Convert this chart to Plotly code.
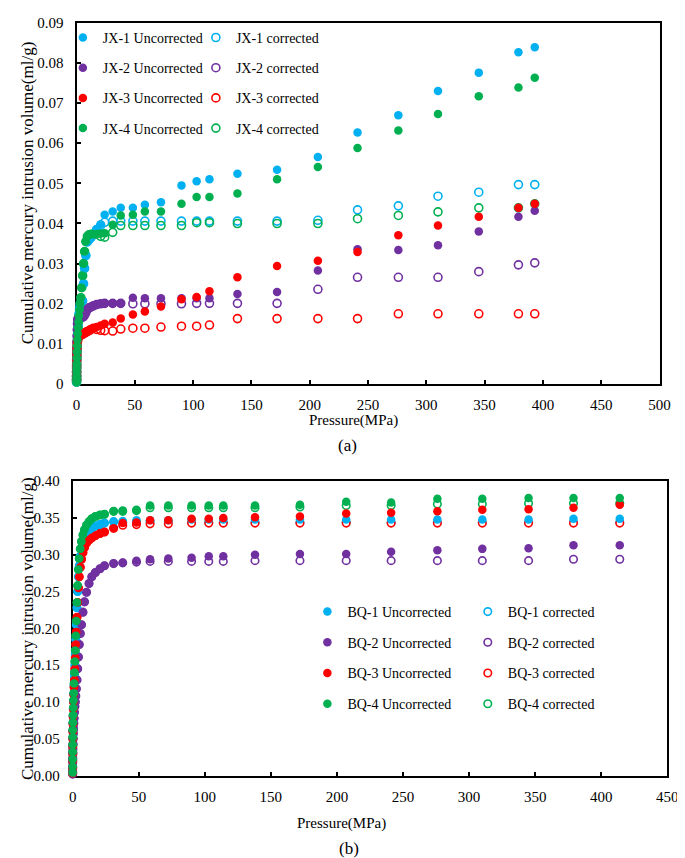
import plotly.graph_objects as go

FONT = "Liberation Serif"
W, H = 685, 858

# ---------------- Panel (a) data ----------------
pressure_a = [0.01, 0.02, 0.03, 0.05, 0.08, 0.12, 0.2, 0.3, 0.45, 0.6,
              0.8, 1.0, 1.3, 1.7, 2.1, 2.6, 3.1, 3.7, 4.4, 5.2,
              6.0, 6.9, 8.0, 9.3, 10.8, 12.4, 14.5, 17.2, 20.7, 24.1,
              31.0, 37.9, 48.3, 58.6, 72.4, 90.0, 103, 114, 138, 172,
              207, 241, 276, 310, 345, 379, 393]

jx1_unc = [0.0005, 0.0012, 0.0018, 0.0025, 0.0035, 0.0045, 0.0058, 0.0070, 0.0085, 0.0100,
           0.0115, 0.0130, 0.0145, 0.0160, 0.0175, 0.0188, 0.0198, 0.0203, 0.0205, 0.0207,
           0.0250, 0.0288, 0.0320, 0.0354, 0.0360, 0.0365, 0.0373, 0.0385, 0.0398, 0.0422,
           0.0430, 0.0439, 0.0439, 0.0447, 0.0453, 0.0495, 0.0505, 0.0510, 0.0524, 0.0534,
           0.0566, 0.0627, 0.0670, 0.0730, 0.0776, 0.0827, 0.0839]
jx1_cor = [0.0005, 0.0012, 0.0018, 0.0025, 0.0035, 0.0045, 0.0058, 0.0070, 0.0085, 0.0100,
           0.0115, 0.0130, 0.0145, 0.0160, 0.0175, 0.0188, 0.0198, 0.0203, 0.0205, 0.0207,
           0.0250, 0.0288, 0.0320, 0.0354, 0.0360, 0.0365, 0.0373, 0.0385, 0.0395, 0.0403,
           0.0406, 0.0406, 0.0406, 0.0406, 0.0406, 0.0406, 0.0406, 0.0406, 0.0406, 0.0406,
           0.0408, 0.0434, 0.0444, 0.0468, 0.0478, 0.0497, 0.0497]
jx2_unc = [0.0010, 0.0020, 0.0030, 0.0045, 0.0060, 0.0075, 0.0090, 0.0105, 0.0120, 0.0135,
           0.0150, 0.0160, 0.0163, 0.0164, 0.0165, 0.0165, 0.0166, 0.0166, 0.0167, 0.0167,
           0.0168, 0.0172, 0.0178, 0.0186, 0.0190, 0.0192, 0.0195, 0.0198, 0.0200, 0.0201,
           0.0201, 0.0201, 0.0215, 0.0214, 0.0214, 0.0214, 0.0214, 0.0214, 0.0224, 0.0229,
           0.0283, 0.0336, 0.0334, 0.0346, 0.0380, 0.0417, 0.0432]
jx2_cor = [0.0010, 0.0020, 0.0030, 0.0045, 0.0060, 0.0075, 0.0090, 0.0105, 0.0120, 0.0135,
           0.0150, 0.0160, 0.0163, 0.0164, 0.0165, 0.0165, 0.0166, 0.0166, 0.0167, 0.0167,
           0.0168, 0.0172, 0.0178, 0.0186, 0.0190, 0.0192, 0.0195, 0.0198, 0.0200, 0.0201,
           0.0201, 0.0201, 0.0200, 0.0200, 0.0200, 0.0200, 0.0201, 0.0201, 0.0201, 0.0201,
           0.0236, 0.0266, 0.0266, 0.0266, 0.0280, 0.0297, 0.0302]
jx3_unc = [0.0010, 0.0020, 0.0030, 0.0040, 0.0050, 0.0060, 0.0070, 0.0080, 0.0090, 0.0098,
           0.0105, 0.0110, 0.0114, 0.0117, 0.0119, 0.0120, 0.0121, 0.0122, 0.0123, 0.0124,
           0.0126, 0.0127, 0.0129, 0.0131, 0.0133, 0.0136, 0.0139, 0.0142, 0.0146, 0.0150,
           0.0153, 0.0163, 0.0173, 0.0181, 0.0193, 0.0211, 0.0217, 0.0231, 0.0266, 0.0294,
           0.0307, 0.0329, 0.0371, 0.0395, 0.0417, 0.0439, 0.0449]
jx3_cor = [0.0010, 0.0020, 0.0030, 0.0040, 0.0050, 0.0060, 0.0070, 0.0080, 0.0090, 0.0098,
           0.0105, 0.0110, 0.0114, 0.0117, 0.0119, 0.0120, 0.0121, 0.0122, 0.0123, 0.0124,
           0.0126, 0.0127, 0.0129, 0.0131, 0.0133, 0.0136, 0.0139, 0.0136, 0.0134, 0.0133,
           0.0132, 0.0137, 0.0139, 0.0139, 0.0142, 0.0144, 0.0144, 0.0147, 0.0163, 0.0163,
           0.0163, 0.0163, 0.0175, 0.0175, 0.0175, 0.0175, 0.0175]
jx4_unc = [0.0005, 0.0010, 0.0015, 0.0020, 0.0030, 0.0040, 0.0050, 0.0065, 0.0080, 0.0095,
           0.0110, 0.0125, 0.0140, 0.0155, 0.0170, 0.0185, 0.0200, 0.0215, 0.0240, 0.0270,
           0.0300, 0.0330, 0.0355, 0.0368, 0.0372, 0.0373, 0.0373, 0.0374, 0.0375, 0.0376,
           0.0397, 0.0420, 0.0422, 0.0430, 0.0430, 0.0449, 0.0466, 0.0466, 0.0475, 0.0510,
           0.0541, 0.0588, 0.0632, 0.0673, 0.0717, 0.0739, 0.0763]
jx4_cor = [0.0005, 0.0010, 0.0015, 0.0020, 0.0030, 0.0040, 0.0050, 0.0065, 0.0080, 0.0095,
           0.0110, 0.0125, 0.0140, 0.0155, 0.0170, 0.0185, 0.0200, 0.0215, 0.0240, 0.0270,
           0.0300, 0.0330, 0.0355, 0.0368, 0.0372, 0.0373, 0.0373, 0.0374, 0.0368, 0.0366,
           0.0378, 0.0395, 0.0395, 0.0395, 0.0395, 0.0395, 0.0402, 0.0402, 0.0400, 0.0400,
           0.0400, 0.0412, 0.0420, 0.0429, 0.0439, 0.0439, 0.0449]

a_x_ticks = [0, 50, 100, 150, 200, 250, 300, 350, 400, 450, 500]
a_y_ticks = [0, 0.01, 0.02, 0.03, 0.04, 0.05, 0.06, 0.07, 0.08, 0.09]
a_y_ticktext = ["0", "0.01", "0.02", "0.03", "0.04", "0.05", "0.06", "0.07", "0.08", "0.09"]

# ---------------- Panel (b) data ----------------
pressure_b = [0.01, 0.02, 0.04, 0.07, 0.1, 0.15, 0.2, 0.3, 0.4, 0.55,
              0.7, 0.9, 1.1, 1.4, 1.7, 2.0, 2.4, 2.8, 3.3, 3.8,
              4.4, 5.0, 5.8, 6.7, 7.8, 9.0, 10.5, 12.4, 14.5, 17.2,
              20.7, 24.1, 31.0, 37.9, 48.3, 58.6, 72.4, 90.0, 103, 114,
              138, 172, 207, 241, 276, 310, 345, 379, 414]

bq1_unc = [0.004, 0.011, 0.021, 0.031, 0.041, 0.051, 0.061, 0.071, 0.081, 0.091,
           0.101, 0.111, 0.122, 0.135, 0.150, 0.165, 0.185, 0.205, 0.228, 0.250,
           0.270, 0.285, 0.298, 0.307, 0.316, 0.322, 0.327, 0.332, 0.336, 0.339,
           0.341, 0.343, 0.345, 0.346, 0.347, 0.347, 0.347, 0.348, 0.348, 0.348,
           0.348, 0.348, 0.348, 0.348, 0.348, 0.348, 0.348, 0.349, 0.349]
bq1_cor = [0.004, 0.011, 0.021, 0.031, 0.041, 0.051, 0.061, 0.071, 0.081, 0.091,
           0.101, 0.111, 0.122, 0.135, 0.150, 0.165, 0.185, 0.205, 0.228, 0.250,
           0.270, 0.285, 0.298, 0.307, 0.316, 0.322, 0.327, 0.332, 0.336, 0.339,
           0.341, 0.343, 0.345, 0.344, 0.345, 0.345, 0.345, 0.344, 0.344, 0.344,
           0.344, 0.344, 0.344, 0.344, 0.344, 0.344, 0.344, 0.344, 0.344]
bq2_unc = [0.002, 0.006, 0.012, 0.018, 0.024, 0.030, 0.036, 0.043, 0.050, 0.057,
           0.064, 0.071, 0.078, 0.086, 0.094, 0.100, 0.108, 0.118, 0.130, 0.145,
           0.161, 0.178, 0.193, 0.205, 0.222, 0.236, 0.249, 0.261, 0.270, 0.276,
           0.281, 0.285, 0.288, 0.289, 0.292, 0.294, 0.295, 0.296, 0.298, 0.298,
           0.300, 0.301, 0.301, 0.304, 0.306, 0.308, 0.309, 0.313, 0.313]
bq2_cor = [0.002, 0.006, 0.012, 0.018, 0.024, 0.030, 0.036, 0.043, 0.050, 0.057,
           0.064, 0.071, 0.078, 0.086, 0.094, 0.100, 0.108, 0.118, 0.130, 0.145,
           0.161, 0.178, 0.193, 0.205, 0.222, 0.236, 0.249, 0.261, 0.270, 0.276,
           0.281, 0.285, 0.288, 0.289, 0.290, 0.291, 0.291, 0.291, 0.291, 0.291,
           0.292, 0.292, 0.292, 0.292, 0.292, 0.292, 0.292, 0.294, 0.294]
bq3_unc = [0.003, 0.010, 0.020, 0.030, 0.040, 0.050, 0.060, 0.070, 0.080, 0.090,
           0.100, 0.110, 0.120, 0.130, 0.145, 0.160, 0.178, 0.195, 0.215, 0.235,
           0.255, 0.270, 0.283, 0.294, 0.303, 0.310, 0.316, 0.320, 0.323, 0.326,
           0.329, 0.331, 0.336, 0.343, 0.344, 0.347, 0.347, 0.349, 0.349, 0.350,
           0.351, 0.352, 0.356, 0.357, 0.359, 0.361, 0.362, 0.364, 0.368]
bq3_cor = [0.003, 0.010, 0.020, 0.030, 0.040, 0.050, 0.060, 0.070, 0.080, 0.090,
           0.100, 0.110, 0.120, 0.130, 0.145, 0.160, 0.178, 0.195, 0.215, 0.235,
           0.255, 0.270, 0.283, 0.294, 0.303, 0.310, 0.316, 0.320, 0.323, 0.326,
           0.329, 0.331, 0.336, 0.340, 0.341, 0.342, 0.342, 0.343, 0.343, 0.343,
           0.343, 0.343, 0.343, 0.343, 0.343, 0.343, 0.343, 0.343, 0.343]
bq4_unc = [0.004, 0.012, 0.022, 0.032, 0.042, 0.052, 0.062, 0.072, 0.082, 0.092,
           0.102, 0.112, 0.125, 0.140, 0.155, 0.170, 0.190, 0.210, 0.235, 0.258,
           0.280, 0.295, 0.308, 0.318, 0.327, 0.334, 0.340, 0.345, 0.349, 0.352,
           0.354, 0.355, 0.359, 0.360, 0.361, 0.367, 0.367, 0.367, 0.367, 0.367,
           0.367, 0.368, 0.372, 0.371, 0.376, 0.376, 0.377, 0.377, 0.377]
bq4_cor = [0.004, 0.012, 0.022, 0.032, 0.042, 0.052, 0.062, 0.072, 0.082, 0.092,
           0.102, 0.112, 0.125, 0.140, 0.155, 0.170, 0.190, 0.210, 0.235, 0.258,
           0.280, 0.295, 0.308, 0.318, 0.327, 0.334, 0.340, 0.345, 0.349, 0.352,
           0.354, 0.355, 0.359, 0.359, 0.360, 0.364, 0.364, 0.364, 0.364, 0.364,
           0.364, 0.365, 0.367, 0.367, 0.369, 0.369, 0.370, 0.370, 0.370]

b_x_ticks = [0, 50, 100, 150, 200, 250, 300, 350, 400, 450]
b_y_ticks = [0, 0.05, 0.10, 0.15, 0.20, 0.25, 0.30, 0.35, 0.40]

COLORS = ["#00B0F0", "#7030A0", "#FF0000", "#00B050"]
names_a = ["JX-1", "JX-2", "JX-3", "JX-4"]
names_b = ["BQ-1", "BQ-2", "BQ-3", "BQ-4"]
unc_a = [jx1_unc, jx2_unc, jx3_unc, jx4_unc]
cor_a = [jx1_cor, jx2_cor, jx3_cor, jx4_cor]
unc_b = [bq1_unc, bq2_unc, bq3_unc, bq4_unc]
cor_b = [bq1_cor, bq2_cor, bq3_cor, bq4_cor]


def px(x):
    return x / W


def py(y):
    return 1 - y / H


fig = go.Figure()

# Panel (a): corrected first (open rings), then uncorrected (filled)
for i in range(4):
    fig.add_trace(go.Scatter(
        x=pressure_a, y=cor_a[i], mode="markers", name=names_a[i] + " corrected",
        marker=dict(symbol="circle-open", size=8, color=COLORS[i], line=dict(width=1.6)),
        xaxis="x", yaxis="y", legend="legend2", legendgroup="ac%d" % i,
        cliponaxis=False, hoverinfo="skip"))
for i in range(4):
    fig.add_trace(go.Scatter(
        x=pressure_a, y=unc_a[i], mode="markers", name=names_a[i] + " Uncorrected",
        marker=dict(symbol="circle", size=8.5, color=COLORS[i]),
        xaxis="x", yaxis="y", legend="legend", legendgroup="au%d" % i,
        cliponaxis=False, hoverinfo="skip"))

# Panel (b)
for i in range(4):
    fig.add_trace(go.Scatter(
        x=pressure_b, y=cor_b[i], mode="markers", name=names_b[i] + " corrected",
        marker=dict(symbol="circle", size=7.5, color="white", line=dict(width=1.6, color=COLORS[i])),
        xaxis="x2", yaxis="y2", legend="legend4", legendgroup="bc%d" % i,
        cliponaxis=False, hoverinfo="skip"))
for i in range(4):
    fig.add_trace(go.Scatter(
        x=pressure_b, y=unc_b[i], mode="markers", name=names_b[i] + " Uncorrected",
        marker=dict(symbol="circle", size=8.5, color=COLORS[i]),
        xaxis="x2", yaxis="y2", legend="legend3", legendgroup="bu%d" % i,
        cliponaxis=False, hoverinfo="skip"))

axis_common = dict(
    showline=True, linecolor="black", linewidth=2, mirror=True,
    ticks="inside", ticklen=4, tickwidth=2, tickcolor="black",
    showgrid=False, zeroline=False, layer="below traces",
    tickfont=dict(family=FONT, size=15, color="black"),
)

legend_common = dict(
    xanchor="left", yanchor="top", bgcolor="rgba(0,0,0,0)", borderwidth=0,
    font=dict(family=FONT, size=14, color="black"), itemclick=False, itemdoubleclick=False,
)

fig.update_layout(
    width=W, height=H, margin=dict(l=0, r=0, t=0, b=0),
    paper_bgcolor="white", plot_bgcolor="white",
    font=dict(family=FONT, color="black"),
    xaxis=dict(domain=[px(66), px(662)], range=[0, 500], tickvals=a_x_ticks,
               anchor="y", ticklabelstandoff=6, **axis_common),
    yaxis=dict(domain=[py(375), py(7)], range=[0, 0.09], tickvals=a_y_ticks,
               ticktext=a_y_ticktext, anchor="x", ticklabelstandoff=8, **axis_common),
    xaxis2=dict(domain=[px(62), px(670)], range=[0, 450], tickvals=b_x_ticks,
                anchor="y2", ticklabelstandoff=6, **axis_common),
    yaxis2=dict(domain=[py(774), py(474)], range=[0, 0.40], tickvals=b_y_ticks,
                tickformat=".2f", anchor="x2", ticklabelstandoff=8, **axis_common),
    legend=dict(x=px(52), y=py(6), tracegroupgap=9, **legend_common),
    legend2=dict(x=px(188), y=py(6), tracegroupgap=9, **legend_common),
    legend3=dict(x=px(302), y=py(591), tracegroupgap=9.5, **legend_common),
    legend4=dict(x=px(466), y=py(591), tracegroupgap=9.5, **legend_common),
    showlegend=True,
)

ann_font = dict(family=FONT, color="black")
annotations = [
    dict(text="Pressure(MPa)", x=px(349), y=py(412), font=dict(size=15, **ann_font)),
    dict(text="(a)", x=px(343), y=py(438), font=dict(size=17, **ann_font)),
    dict(text="Pressure(MPa)", x=px(337), y=py(823), font=dict(size=15, **ann_font)),
    dict(text="(b)", x=px(345), y=py(848), font=dict(size=17, **ann_font)),
    dict(text="Cumulative mercury intrusion volume(ml/g)", x=px(16), y=py(180),
         textangle=-90, font=dict(size=17, **ann_font)),
    dict(text="Cumulative mercury intrusion volume(ml/g)", x=px(16), y=py(624),
         textangle=-90, font=dict(size=17, **ann_font)),
]
for a in annotations:
    a.update(xref="paper", yref="paper", showarrow=False, xanchor="center", yanchor="middle")
fig.update_layout(annotations=annotations)

fig.write_html("out.html")
